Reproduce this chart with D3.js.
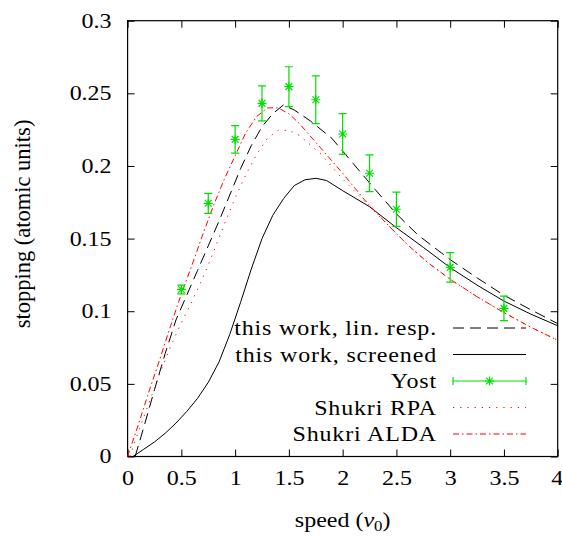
<!DOCTYPE html>
<html>
<head>
<meta charset="utf-8">
<script src="https://cdn.jsdelivr.net/npm/d3@7"></script>
<style>
  body { margin: 0; background: #fff; }
</style>
</head>
<body>
<svg id="chart" width="562" height="536"></svg>
<script>
// this work, linear response (dashed)
const linV = [0.07, 0.15, 0.25, 0.35, 0.45, 0.55, 0.65, 0.75, 0.85, 0.95, 1.05, 1.15, 1.25, 1.35, 1.45, 1.55, 1.7, 1.9, 2.1, 2.3, 2.5, 2.7, 3.0, 3.25, 3.5, 3.75, 4.0];
const linS = [0.0, 0.02, 0.046, 0.071, 0.094, 0.111, 0.128, 0.145, 0.162, 0.18, 0.198, 0.214, 0.227, 0.236, 0.242, 0.2385, 0.231, 0.219, 0.2015, 0.184, 0.167, 0.1525, 0.1355, 0.123, 0.111, 0.101, 0.0915];

// this work, screened (solid)
const scrV = [0.05, 0.15, 0.25, 0.35, 0.45, 0.55, 0.65, 0.75, 0.85, 0.95, 1.05, 1.15, 1.25, 1.35, 1.45, 1.55, 1.65, 1.75, 1.85, 2.0, 2.25, 2.5, 2.75, 3.0, 3.25, 3.5, 3.75, 4.0];
const scrS = [0.0, 0.005, 0.01, 0.016, 0.023, 0.031, 0.04, 0.051, 0.065, 0.084, 0.106, 0.129, 0.15, 0.166, 0.1775, 0.1865, 0.1905, 0.1915, 0.19, 0.183, 0.172, 0.1575, 0.144, 0.13, 0.118, 0.107, 0.098, 0.09];

// Yost experiment
const yostV = [0.5, 0.75, 1.0, 1.25, 1.5, 1.75, 2.0, 2.25, 2.5, 3.0, 3.5];
const yostS = [0.115, 0.1743, 0.2183, 0.2431, 0.2546, 0.2456, 0.222, 0.195, 0.1702, 0.1302, 0.102];
const yostErr = [0.003, 0.0069, 0.0095, 0.012, 0.0137, 0.0164, 0.014, 0.0127, 0.0118, 0.0102, 0.0084];

// Shukri RPA (dotted)
const rpaV = [0.02, 0.1, 0.2, 0.3, 0.4, 0.5, 0.6, 0.7, 0.8, 0.9, 1.0, 1.1, 1.2, 1.3, 1.4, 1.5, 1.6, 1.8, 2.0, 2.2, 2.4, 2.6, 2.8, 3.0, 3.25, 3.5, 3.75, 4.0];
const rpaS = [0.0, 0.017, 0.037, 0.057, 0.076, 0.092, 0.107, 0.123, 0.141, 0.16, 0.178, 0.194, 0.208, 0.219, 0.2245, 0.2245, 0.221, 0.208, 0.191, 0.176, 0.161, 0.146, 0.133, 0.122, 0.11, 0.099, 0.089, 0.08];

// Shukri ALDA (dash-dot)
const aldaV = [0.0, 0.1, 0.2, 0.3, 0.4, 0.5, 0.6, 0.7, 0.8, 0.9, 1.0, 1.1, 1.2, 1.3, 1.4, 1.5, 1.6, 1.8, 2.0, 2.2, 2.4, 2.6, 2.8, 3.0, 3.25, 3.5, 3.75, 4.0];
const aldaS = [0.0, 0.022, 0.045, 0.067, 0.09, 0.112, 0.132, 0.153, 0.173, 0.191, 0.207, 0.223, 0.234, 0.24, 0.24, 0.236, 0.229, 0.212, 0.195, 0.177, 0.161, 0.146, 0.133, 0.122, 0.11, 0.099, 0.089, 0.08];

const xTicks = [0, 0.5, 1, 1.5, 2, 2.5, 3, 3.5, 4];
const yTicks = [0, 0.05, 0.1, 0.15, 0.2, 0.25, 0.3];
const legendLabels = ['this work, lin. resp.', 'this work, screened', 'Yost', 'Shukri RPA', 'Shukri ALDA'];

const margin = {top: 20.7, right: 4.3, bottom: 79.5, left: 127.6},
  width = 562 - margin.left - margin.right,
  height = 536 - margin.top - margin.bottom;

const FONT = 'Liberation Serif';
const SX = 1.2;   // the serif text of the original is wider than Times

const svg = d3.select('#chart');
const g = svg.append('g')
  .attr('transform', `translate(${margin.left},${margin.top})`);

const x = d3.scaleLinear().domain([0, 4]).range([0, width]);
const y = d3.scaleLinear().domain([0, 0.3]).range([height, 0]);

const green = '#00e000';
const tickLen = 7;

// ticks (inward, mirrored)
const axB = d3.axisBottom(x).tickValues(xTicks).tickSize(-tickLen).tickFormat(d => d3.format('')(d));
const axT = d3.axisTop(x).tickValues(xTicks).tickSize(-tickLen).tickFormat('');
const axL = d3.axisLeft(y).tickValues(yTicks).tickSize(-tickLen).tickFormat(d => d3.format('')(d));
const axR = d3.axisRight(y).tickValues(yTicks).tickSize(-tickLen).tickFormat('');

const gB = g.append('g').attr('transform', `translate(0,${height})`).call(axB);
g.append('g').call(axT);
const gL = g.append('g').call(axL);
g.append('g').attr('transform', `translate(${width},0)`).call(axR);

g.selectAll('.domain').remove();
g.selectAll('g').attr('font-family', FONT).attr('font-size', 20);
g.selectAll('.tick line').attr('stroke', '#000').attr('stroke-width', 1);
gB.selectAll('.tick text').attr('y', 14).attr('dy', '0.71em')
  .attr('transform', `scale(${SX},1)`)
  .attr('fill', '#000');
gB.selectAll('.tick text').filter(d => d === 4)
  .attr('text-anchor', 'end').attr('x', 5 / SX);
gL.selectAll('.tick text').attr('x', -16 / SX).attr('dy', '0.32em')
  .attr('transform', `scale(${SX},1)`)
  .attr('fill', '#000');

// frame
g.append('rect')
  .attr('width', width).attr('height', height)
  .attr('fill', 'none').attr('stroke', '#000').attr('stroke-width', 1.2);

const line = d3.line().x(d => x(d[0])).y(d => y(d[1]));
const zip = (a, b) => a.map((v, i) => [v, b[i]]);

const series = [
  {data: zip(linV, linS), color: '#000', dash: '11,6'},
  {data: zip(scrV, scrS), color: '#000', dash: null},
  {data: zip(rpaV, rpaS), color: '#ff0000', dash: '1.2,6'},
  {data: zip(aldaV, aldaS), color: '#ff0000', dash: '6,3,1.5,3'}
];

series.forEach(s => {
  g.append('path')
    .datum(s.data)
    .attr('d', line)
    .attr('fill', 'none')
    .attr('stroke', s.color)
    .attr('stroke-width', 1)
    .attr('stroke-dasharray', s.dash);
});

// Yost with error bars
function star(sel, cx, cy, r) {
  const d = `M${cx - r},${cy}H${cx + r}M${cx},${cy - r}V${cy + r}` +
    `M${cx - r * 0.75},${cy - r * 0.75}L${cx + r * 0.75},${cy + r * 0.75}` +
    `M${cx - r * 0.75},${cy + r * 0.75}L${cx + r * 0.75},${cy - r * 0.75}`;
  sel.append('path').attr('d', d).attr('stroke', green).attr('stroke-width', 1.2).attr('fill', 'none');
}

const yost = g.append('g');
yostV.forEach((v, i) => {
  const cx = x(v), lo = y(yostS[i] - yostErr[i]), hi = y(yostS[i] + yostErr[i]);
  yost.append('path')
    .attr('d', `M${cx},${lo}V${hi}M${cx - 4},${lo}H${cx + 4}M${cx - 4},${hi}H${cx + 4}`)
    .attr('stroke', green).attr('stroke-width', 1.2).attr('fill', 'none');
  star(yost, cx, y(yostS[i]), 4.5);
});

// legend
const legX = 437, sx0 = 453, sx1 = 526, legY0 = 328, legDy = 26.5;
const legend = svg.append('g');
legendLabels.forEach((lab, i) => {
  const ly = legY0 + i * legDy;
  legend.append('text')
    .attr('transform', `translate(${legX},${ly}) scale(${SX},1)`)
    .attr('dy', '0.35em')
    .attr('text-anchor', 'end')
    .attr('font-family', FONT)
    .attr('font-size', 20)
    .attr('letter-spacing', 0.7)
    .text(lab);
  if (i === 2) {
    legend.append('path')
      .attr('d', `M${sx0},${ly}H${sx1}M${sx0},${ly - 4}V${ly + 4}M${sx1},${ly - 4}V${ly + 4}`)
      .attr('stroke', green).attr('stroke-width', 1.2).attr('fill', 'none');
    star(legend, (sx0 + sx1) / 2, ly, 4.5);
  } else {
    const s = series[i < 2 ? i : i - 1];
    legend.append('line')
      .attr('x1', sx0).attr('x2', sx1).attr('y1', ly).attr('y2', ly)
      .attr('stroke', s.color).attr('stroke-width', 1)
      .attr('stroke-dasharray', s.dash);
  }
});

// axis titles
const xt = svg.append('text')
  .attr('transform', `translate(${margin.left + width / 2},527) scale(${SX},1)`)
  .attr('text-anchor', 'middle')
  .attr('font-family', FONT)
  .attr('font-size', 20);
xt.append('tspan').text('speed (');
xt.append('tspan').attr('font-style', 'italic').text('v');
xt.append('tspan').attr('dy', 4).attr('font-size', 14).text('0');
xt.append('tspan').attr('dy', -4).text(')');

svg.append('text')
  .attr('transform', 'translate(30,224) rotate(-90)')
  .attr('text-anchor', 'middle')
  .attr('font-family', FONT)
  .attr('font-size', 22.5)
  .text('stopping (atomic units)');
</script>
</body>
</html>
